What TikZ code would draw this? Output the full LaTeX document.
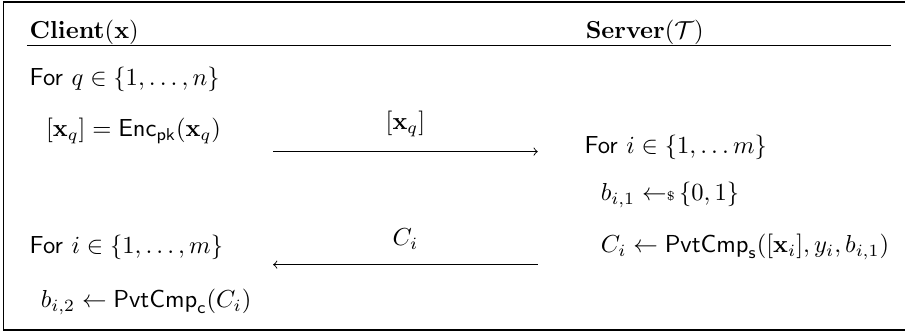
\documentclass[tikz,border=0pt]{standalone}
\usepackage{amsmath,amssymb}
\newcommand{\enc}{\mathsf{Enc}}
\newcommand{\pvtcmp}{\mathsf{PvtCmp}}
\newcommand{\sampfrom}{\leftarrow\mkern-5mu{\scriptscriptstyle\$}\,}

\begin{document}
\begin{tikzpicture}[
  x=1cm, y=1cm,
  every node/.style={inner sep=1pt, scale=1.07},
  line/.style={anchor=west},
  frame/.style={draw, line width=0.6pt},
  msg/.style={draw, line width=0.4pt, ->},
  msglabel/.style={inner sep=2pt}]

  \useasboundingbox (0,0) rectangle (13.85,-5.10);

  % frame and header rule
  \draw[frame] (13.90,-0.03) -- (0.05,-0.03) -- (0.05,-5.05) -- (13.90,-5.05);
  \draw[frame] (0.41,-0.70) -- (13.63,-0.70);

  % parties
  \node[line] (client) at (0.41,-0.50) {$\mathbf{Client}(\mathbf{x})$};
  \node[line] (server) at (8.92,-0.50) {$\mathbf{Server}(\mathcal{T})$};

  % client side
  \node[line] (forq) at (0.41,-1.22) {$\mathsf{For}\ q \in \{1,\ldots,n\}$};
  \node[line] (enc)  at (0.66,-2.00) {$[\mathbf{x}_q] = \enc_{\mathsf{pk}}(\mathbf{x}_q)$};
  \node[line] (fori) at (0.41,-3.79) {$\mathsf{For}\ i \in \{1,\ldots,m\}$};
  \node[line] (bi2)  at (0.58,-4.62) {$b_{i,2} \leftarrow \pvtcmp_{\mathsf{c}}(C_i)$};

  % server side
  \node[line] (forim) at (8.90,-2.26) {$\mathsf{For}\ i \in \{1,\ldots m\}$};
  \node[line] (bi1)   at (9.15,-2.98) {$b_{i,1} \sampfrom \{0,1\}$};
  \node[line] (ci)    at (9.15,-3.78) {$C_i \leftarrow \pvtcmp_{\mathsf{s}}([\mathbf{x}_i], y_i, b_{i,1})$};

  % arrows
  \coordinate (sendl) at (4.18,-2.32);
  \coordinate (sendr) at (8.23,-2.32);
  \coordinate (recvl) at (4.18,-4.05);
  \coordinate (recvr) at (8.23,-4.05);
  \draw[msg] (sendl) -- node[msglabel, above=4pt] (xq) {$[\mathbf{x}_q]$} (sendr);
  \draw[msg] (recvr) -- node[msglabel, above=4pt] (cil) {$C_i$} (recvl);
\end{tikzpicture}
\end{document}
